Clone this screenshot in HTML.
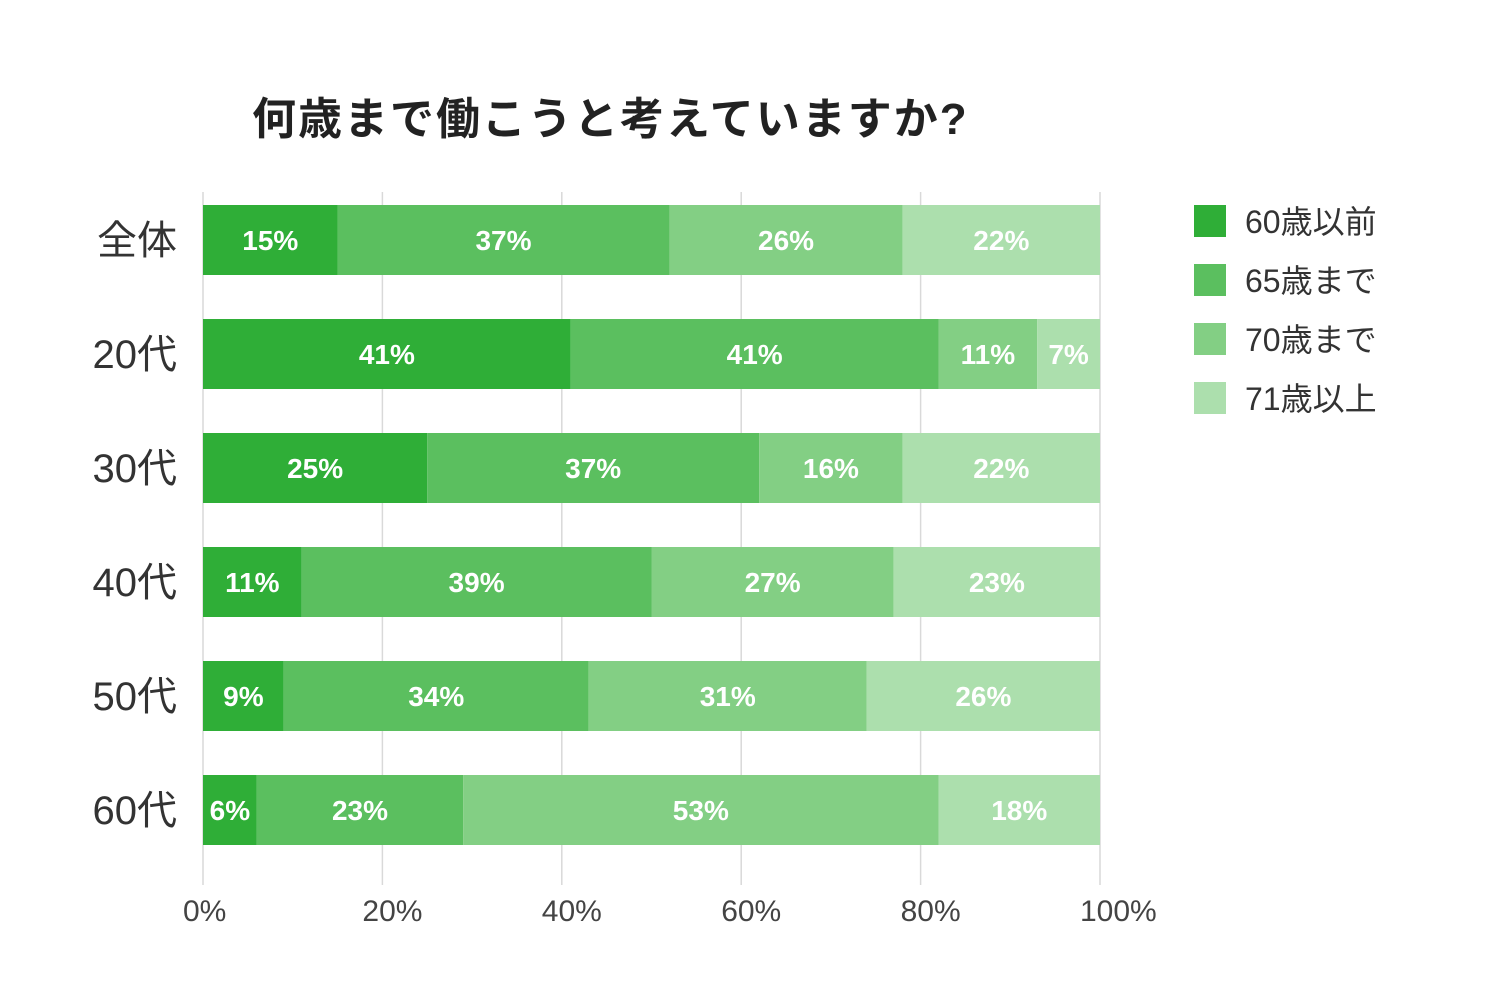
<!DOCTYPE html>
<html><head><meta charset="utf-8">
<style>
body{margin:0;background:#fff;}
svg{display:block;font-family:"Liberation Sans","Noto Sans CJK JP",sans-serif;}
</style></head>
<body>
<svg id="chart" width="1500" height="1003" viewBox="0 0 1500 1003">
<rect width="1500" height="1003" fill="#fff"/>
<text x="252" y="134" font-size="44" font-weight="bold" fill="#222" letter-spacing="2">何歳まで働こうと考えていますか?</text>
<g id="grid"></g><g id="bars"></g><g id="labels"></g><g id="legend"></g>
</svg>
<script>
const categories=["全体","20代","30代","40代","50代","60代"];
const seriesNames=["60歳以前","65歳まで","70歳まで","71歳以上"];
const s1=[15,41,25,11,9,6];
const s2=[37,41,37,39,34,23];
const s3=[26,11,16,27,31,53];
const s4=[22,7,22,23,26,18];
const ticks=[0,20,40,60,80,100];
const series=[s1,s2,s3,s4];
const colors=["#2fae37","#5bbf5f","#83cf84","#acdfad"];
const NS="http://www.w3.org/2000/svg";
const X0=203,X1=1100;
const xs=v=>X0+(X1-X0)*v/100;
const y0=205,step=114,bh=70;
function mk(t,a,p){const e=document.createElementNS(NS,t);for(const k in a)e.setAttribute(k,a[k]);p.appendChild(e);return e;}
const grid=document.getElementById('grid'),bars=document.getElementById('bars'),labels=document.getElementById('labels'),legend=document.getElementById('legend');
ticks.forEach(t=>{
 const l=mk('line',{x1:xs(t),x2:xs(t),y1:192,y2:885,stroke:'#d9d9d9','stroke-width':1.5},grid);
 
 
 const tx=mk('text',{x:xs(t)-20,y:921,'font-size':30,fill:'#444'},grid);
 tx.textContent=t+'%';
 
 
});
categories.forEach((c,i)=>{
 const y=y0+i*step;
 const cl=mk('text',{x:177,y:y+bh/2+14,'font-size':40,'text-anchor':'end',fill:'#333'},labels);
 cl.textContent=c;
 
 
 let acc=0;
 series.forEach((s,j)=>{
  const v=s[i];
  const r=mk('rect',{x:xs(acc),y:y,width:xs(acc+v)-xs(acc),height:bh,fill:colors[j]},bars);
  
  
  const t=mk('text',{x:(xs(acc)+xs(acc+v))/2,y:y+bh/2+10,'font-size':28,'font-weight':'bold','text-anchor':'middle',fill:'#fff'},labels);
  t.textContent=v+'%';
  
  
  acc+=v;
 });
});
seriesNames.forEach((n,j)=>{
 const y=205+j*59;
 const r=mk('rect',{x:1194,y:y,width:32,height:32,fill:colors[j]},legend);
 
 
 const t=mk('text',{x:1245,y:y+28,'font-size':32,fill:'#333'},legend);
 t.textContent=n;
 
 
});
</script>
</body></html>
